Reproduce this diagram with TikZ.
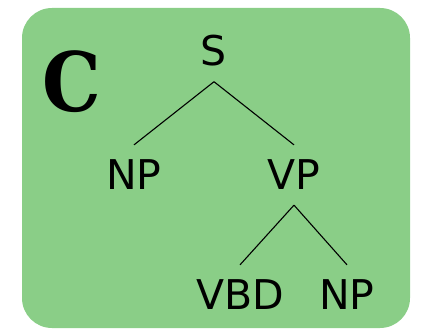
\documentclass[tikz,border=0pt]{standalone}
\usepackage{fontspec}
\setmainfont{DejaVu Sans}
\newfontfamily\panelfont{DejaVu Serif Condensed}
\usetikzlibrary{positioning}

\definecolor{panelgreen}{HTML}{8ACE87}

\begin{document}
\begin{tikzpicture}
		[x=1pt,y=1pt,
		tree node/.style={inner xsep=0pt,inner ysep=15pt,font=\fontsize{41}{41}\selectfont},
		branch/.style={draw=black,line width=1.1pt}]
		\useasboundingbox (0,0) rectangle (427,329);
		\fill[panelgreen,rounded corners=30pt] (22,1) rectangle (410,321);
		
		\node[font=\panelfont\bfseries\fontsize{82}{82}\selectfont,inner sep=0pt] (panel) at (72,247) {C};
		
		\node [tree node] (s) at (214,278) {S};
		\node [tree node] (np) at (134,154) {NP};
		\node [tree node] (vp) at (294,154) {VP};
		\node [tree node] (vbd) at (240,34) {VBD};
		\node [tree node] (np2) at (347,34) {NP};
		
		\path[branch]
		(s.south) edge (np.north)
		(s.south) edge (vp.north)
		
		(vp.south) edge (vbd.north)
		(vp.south) edge (np2.north)
		;
		
		\end{tikzpicture}
\end{document}
